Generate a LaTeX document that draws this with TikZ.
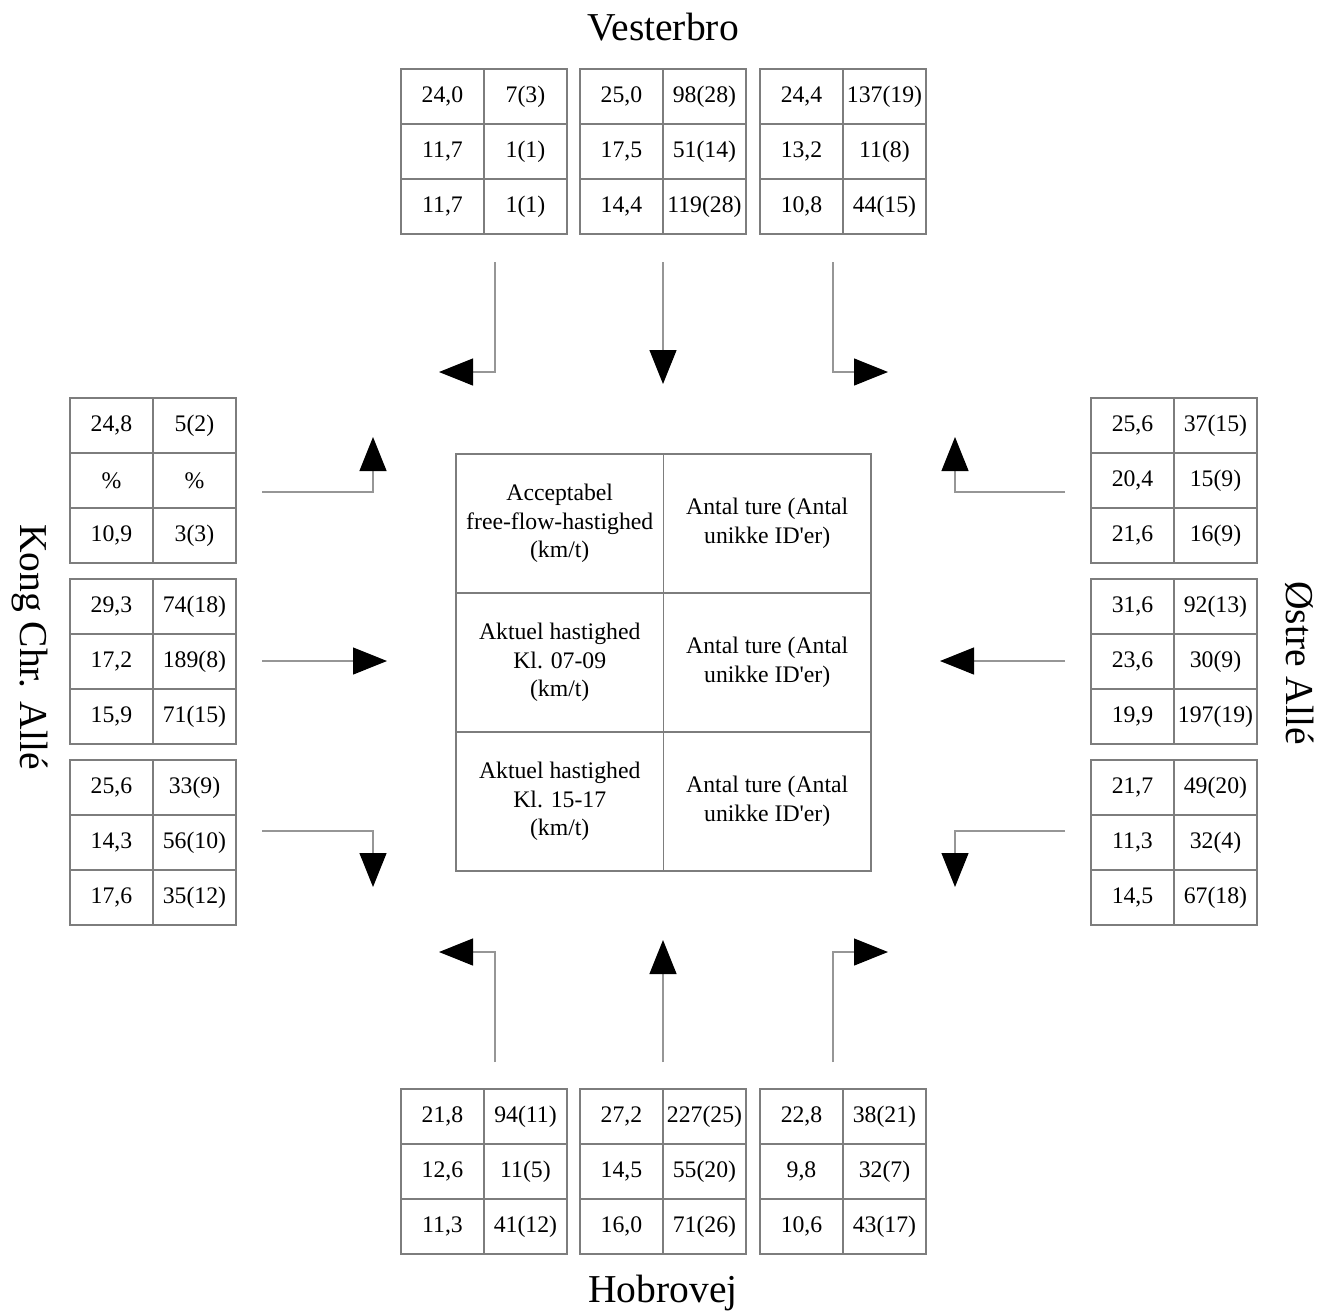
\documentclass[tikz,border=0pt]{standalone}
\usepackage{fontspec}
\setmainfont{Liberation Serif}
\usetikzlibrary{arrows.meta,positioning}
\definecolor{streg}{RGB}{125,125,125}
\definecolor{pil}{RGB}{150,150,150}
\tikzset{
	celle/.style={draw=streg, line width=0.8pt, minimum width=1.66cm, minimum height=1.1cm, inner sep=0pt, outer sep=0pt, font=\fontsize{13.5}{16.2}\selectfont},
	midt/.style={celle, minimum width=4.15cm, minimum height=2.78cm, align=center},
	vej/.style={font=\fontsize{22.5}{27}\selectfont},
	flow/.style={draw=pil, line width=0.7pt, -{Triangle[length=6.8mm, width=5.4mm, color=black, fill=black]}},
}
\def\tabel#1(#2,#3)#4#5#6#7#8#9{
	\node[celle, anchor=north west] (#1-a1) at (#2,#3) {#4};
	\node[celle, right=0pt of #1-a1] (#1-b1) {#5};
	\node[celle, below=0pt of #1-a1] (#1-a2) {#6};
	\node[celle, right=0pt of #1-a2] (#1-b2) {#7};
	\node[celle, below=0pt of #1-a2] (#1-a3) {#8};
	\node[celle, right=0pt of #1-a3] (#1-b3) {#9};
}

\begin{document}
\begin{tikzpicture}[x=0.02cm, y=-0.02cm]
			%%%%% START %%%%%
			
			\useasboundingbox (0, 0) rectangle (1331, 1312);
			
			\node[vej, anchor=base] (vesterbro) at (663, 40) {Vesterbro};
			\node[vej, anchor=base] (hobrovej) at (663, 1302) {Hobrovej};
			\node[vej, rotate=-90] (kong) at (30, 647) {Kong Chr. Allé};
			\node[vej, rotate=-90] (oestre) at (1300, 663) {Østre Allé};
			
			\tabel{v1}(401, 69){24,0}{7(3)}{11,7}{1(1)}{11,7}{1(1)}
			\tabel{v2}(580, 69){25,0}{98(28)}{17,5}{51(14)}{14,4}{119(28)}
			\tabel{v3}(760, 69){24,4}{137(19)}{13,2}{11(8)}{10,8}{44(15)}
			
			\tabel{k1}(70, 398){24,8}{5(2)}{\%}{\%}{10,9}{3(3)}
			\tabel{k2}(70, 579){29,3}{74(18)}{17,2}{189(8)}{15,9}{71(15)}
			\tabel{k3}(70, 760){25,6}{33(9)}{14,3}{56(10)}{17,6}{35(12)}
			
			\tabel{o1}(1091, 398){25,6}{37(15)}{20,4}{15(9)}{21,6}{16(9)}
			\tabel{o2}(1091, 579){31,6}{92(13)}{23,6}{30(9)}{19,9}{197(19)}
			\tabel{o3}(1091, 760){21,7}{49(20)}{11,3}{32(4)}{14,5}{67(18)}
			
			\tabel{h1}(401, 1089){21,8}{94(11)}{12,6}{11(5)}{11,3}{41(12)}
			\tabel{h2}(580, 1089){27,2}{227(25)}{14,5}{55(20)}{16,0}{71(26)}
			\tabel{h3}(760, 1089){22,8}{38(21)}{9,8}{32(7)}{10,6}{43(17)}
			
			\node[midt, anchor=north west] (m-a1) at (456, 454) {Acceptabel\\free-flow-hastighed\\(km/t)};
			\node[midt, right=0pt of m-a1] (m-b1) {Antal ture (Antal\\unikke ID\textquotesingle er)};
			\node[midt, below=0pt of m-a1] (m-a2) {Aktuel hastighed\\Kl. 07-09\\(km/t)};
			\node[midt, right=0pt of m-a2] (m-b2) {Antal ture (Antal\\unikke ID\textquotesingle er)};
			\node[midt, below=0pt of m-a2] (m-a3) {Aktuel hastighed\\Kl. 15-17\\(km/t)};
			\node[midt, right=0pt of m-a3] (m-b3) {Antal ture (Antal\\unikke ID\textquotesingle er)};
			
			% fra Vesterbro
			\coordinate (v-v0) at (495, 262);
			\coordinate (v-v1) at (495, 372);
			\coordinate (v-v2) at (439, 372);
			\coordinate (v-l0) at (663, 262);
			\coordinate (v-l1) at (663, 384);
			\coordinate (v-h0) at (833, 262);
			\coordinate (v-h1) at (833, 372);
			\coordinate (v-h2) at (888, 372);
			\draw[flow] (v-v0) -- (v-v1) -- (v-v2);
			\draw[flow] (v-l0) -- (v-l1);
			\draw[flow] (v-h0) -- (v-h1) -- (v-h2);
			
			% fra Hobrovej
			\coordinate (h-v0) at (495, 1062);
			\coordinate (h-v1) at (495, 952);
			\coordinate (h-v2) at (439, 952);
			\coordinate (h-l0) at (663, 1062);
			\coordinate (h-l1) at (663, 940);
			\coordinate (h-h0) at (833, 1062);
			\coordinate (h-h1) at (833, 952);
			\coordinate (h-h2) at (888, 952);
			\draw[flow] (h-v0) -- (h-v1) -- (h-v2);
			\draw[flow] (h-l0) -- (h-l1);
			\draw[flow] (h-h0) -- (h-h1) -- (h-h2);
			
			% fra Kong Chr. Alle
			\coordinate (k-v0) at (262, 492);
			\coordinate (k-v1) at (373, 492);
			\coordinate (k-v2) at (373, 437);
			\coordinate (k-l0) at (262, 661);
			\coordinate (k-l1) at (387, 661);
			\coordinate (k-h0) at (262, 831);
			\coordinate (k-h1) at (373, 831);
			\coordinate (k-h2) at (373, 887);
			\draw[flow] (k-v0) -- (k-v1) -- (k-v2);
			\draw[flow] (k-l0) -- (k-l1);
			\draw[flow] (k-h0) -- (k-h1) -- (k-h2);
			
			% fra Oestre Alle
			\coordinate (o-v0) at (1065, 492);
			\coordinate (o-v1) at (955, 492);
			\coordinate (o-v2) at (955, 437);
			\coordinate (o-l0) at (1065, 661);
			\coordinate (o-l1) at (940, 661);
			\coordinate (o-h0) at (1065, 831);
			\coordinate (o-h1) at (955, 831);
			\coordinate (o-h2) at (955, 887);
			\draw[flow] (o-v0) -- (o-v1) -- (o-v2);
			\draw[flow] (o-l0) -- (o-l1);
			\draw[flow] (o-h0) -- (o-h1) -- (o-h2);
			
			%%%%% END %%%%%
\end{tikzpicture}
\end{document}
